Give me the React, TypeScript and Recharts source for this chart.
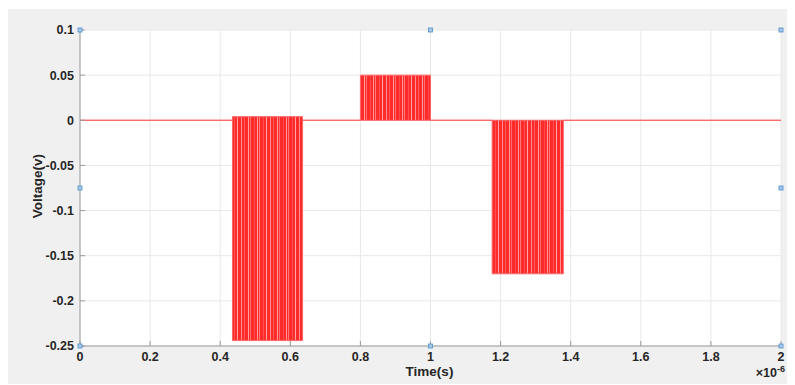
import React from "react";
import {
  ComposedChart,
  Area,
  XAxis,
  YAxis,
  CartesianGrid,
  ReferenceDot,
  Label,
} from "recharts";

// Time in microseconds (axis shows x 10^-6 s)
const timeUs = [0, 0.435, 0.435, 0.635, 0.635, 0.8, 0.8, 1.0, 1.0, 1.176, 1.176, 1.379, 1.379, 2.0];
// Envelope of the fast oscillation (upper / lower extremes), volts
const upperV = [0, 0, 0.004, 0.004, 0, 0, 0.05, 0.05, 0, 0, 0, 0, 0, 0];
const lowerV = [0, 0, -0.244, -0.244, 0, 0, 0, 0, 0, 0, -0.17, -0.17, 0, 0];

const xTicks = [0, 0.2, 0.4, 0.6, 0.8, 1, 1.2, 1.4, 1.6, 1.8, 2];
const yTicks = [-0.25, -0.2, -0.15, -0.1, -0.05, 0, 0.05, 0.1];
const xTickLabels = ["0", "0.2", "0.4", "0.6", "0.8", "1", "1.2", "1.4", "1.6", "1.8", "2"];
const yTickLabels = ["-0.25", "-0.2", "-0.15", "-0.1", "-0.05", "0", "0.05", "0.1"];

const handleX = [0, 1, 2, 0, 2, 0, 1, 2];
const handleY = [0.1, 0.1, 0.1, -0.075, -0.075, -0.25, -0.25, -0.25];

const data = timeUs.map((t, i) => ({ t, range: [lowerV[i], upperV[i]] }));

const FONT = "'Liberation Sans', Arial, Helvetica, sans-serif";
const TXT = "#262626";
const AXIS = "#9a9a9a";

const tickStyle = { fontSize: 12.5, fontWeight: 700, fill: TXT, fontFamily: FONT };
const noTick = () => <g />;

const HandleShape = (props: any) => {
  const { cx, cy } = props;
  if (cx == null || cy == null) return <g />;
  return (
    <rect x={cx - 2} y={cy - 2} width={4} height={4} fill="#a9c8e8" stroke="#4d8fcc" strokeWidth={0.8} />
  );
};

export default function App() {
  return (
    <div style={{ position: "relative", top: 1, width: 786, height: 376, background: "#f0f0f0" }}>
      <ComposedChart
        width={786}
        height={376}
        data={data}
        margin={{ top: 21, right: 13, bottom: 0, left: 0 }}
      >
        <defs>
          <pattern id="burst" patternUnits="userSpaceOnUse" width="29" height="400">
            <rect x="0" y="0" width="29" height="400" fill="#ff2a2a" />
            <rect x="1" y="0" width="1" height="400" fill="#ff9090" />
            <rect x="4" y="0" width="1" height="400" fill="#ff5a5a" />
            <rect x="8" y="0" width="1" height="400" fill="#ffa0a0" />
            <rect x="10" y="0" width="1" height="400" fill="#ff6e6e" />
            <rect x="14" y="0" width="1" height="400" fill="#ff4a4a" />
            <rect x="17" y="0" width="1" height="400" fill="#ff9a9a" />
            <rect x="19" y="0" width="1" height="400" fill="#ff7a7a" />
            <rect x="23" y="0" width="1" height="400" fill="#ff5050" />
            <rect x="26" y="0" width="1" height="400" fill="#ffa6a6" />
          </pattern>
        </defs>
        <CartesianGrid stroke="#e8e8e8" fill="#ffffff" />
        <XAxis
          dataKey="t"
          type="number"
          domain={[0, 2]}
          ticks={xTicks}
          tickFormatter={(v: number) => xTickLabels[xTicks.indexOf(v)] ?? String(v)}
          height={39}
          tickSize={-5}
          tickMargin={11}
          tick={tickStyle}
          axisLine={{ stroke: AXIS }}
          tickLine={{ stroke: AXIS }}
          interval={0}
        >
          <Label
            content={(p: any) => {
              const vb = p.viewBox;
              return (
                <g>
                  <text
                    x={vb.x + vb.width / 2 - 1}
                    y={vb.y + 30}
                    textAnchor="middle"
                    fontSize={13.5}
                    fontWeight={700}
                    fill={TXT}
                    fontFamily={FONT}
                  >
                    Time(s)
                  </text>
                  <text
                    x={vb.x + vb.width + 4}
                    y={vb.y + 31}
                    textAnchor="end"
                    fontSize={12.5}
                    fontWeight={700}
                    fill={TXT}
                    fontFamily={FONT}
                  >
                    <tspan>×10</tspan>
                    <tspan dy={-5} fontSize={9}>-6</tspan>
                  </text>
                </g>
              );
            }}
          />
        </XAxis>
        <XAxis
          xAxisId="top"
          orientation="top"
          type="number"
          domain={[0, 2]}
          ticks={xTicks}
          height={0}
          tickSize={-5}
          tick={noTick}
          axisLine={{ stroke: AXIS }}
          tickLine={{ stroke: AXIS }}
          interval={0}
        >
          <Label
            content={(p: any) => {
              const vb = p.viewBox;
              return (
                <text
                  x={vb.x + vb.width / 2}
                  y={vb.y - 6}
                  textAnchor="middle"
                  fontSize={13.5}
                  fontWeight={700}
                  fill={TXT}
                  fontFamily={FONT}
                >
                  Quadrature Input
                </text>
              );
            }}
          />
        </XAxis>
        <YAxis
          type="number"
          domain={[-0.25, 0.1]}
          ticks={yTicks}
          tickFormatter={(v: number) => yTickLabels[yTicks.indexOf(v)] ?? String(v)}
          width={72}
          tickSize={-5}
          tickMargin={11}
          tick={tickStyle}
          axisLine={{ stroke: AXIS }}
          tickLine={{ stroke: AXIS }}
          interval={0}
          allowDataOverflow
        >
          <Label
            content={(p: any) => {
              const vb = p.viewBox;
              const x = vb.x + 34;
              const y = vb.y + vb.height / 2 - 2;
              return (
                <text
                  x={x}
                  y={y}
                  transform={`rotate(-90 ${x} ${y})`}
                  textAnchor="middle"
                  fontSize={13.5}
                  fontWeight={700}
                  fill={TXT}
                  fontFamily={FONT}
                >
                  Voltage(v)
                </text>
              );
            }}
          />
        </YAxis>
        <YAxis
          yAxisId="right"
          orientation="right"
          type="number"
          domain={[-0.25, 0.1]}
          ticks={yTicks}
          width={0}
          tickSize={-5}
          tick={noTick}
          axisLine={{ stroke: AXIS, strokeWidth: 1.5 }}
          tickLine={{ stroke: AXIS }}
          interval={0}
          allowDataOverflow
        />
        <Area
          dataKey="range"
          type="linear"
          stroke="#ff6464"
          strokeWidth={1}
          fill="url(#burst)"
          fillOpacity={1}
          dot={false}
          activeDot={false}
          isAnimationActive={false}
        />
        {handleX.map((hx, i) => (
          <ReferenceDot
            key={i}
            x={hx}
            y={handleY[i]}
            ifOverflow="visible"
            shape={HandleShape}
          />
        ))}
      </ComposedChart>
    </div>
  );
}
